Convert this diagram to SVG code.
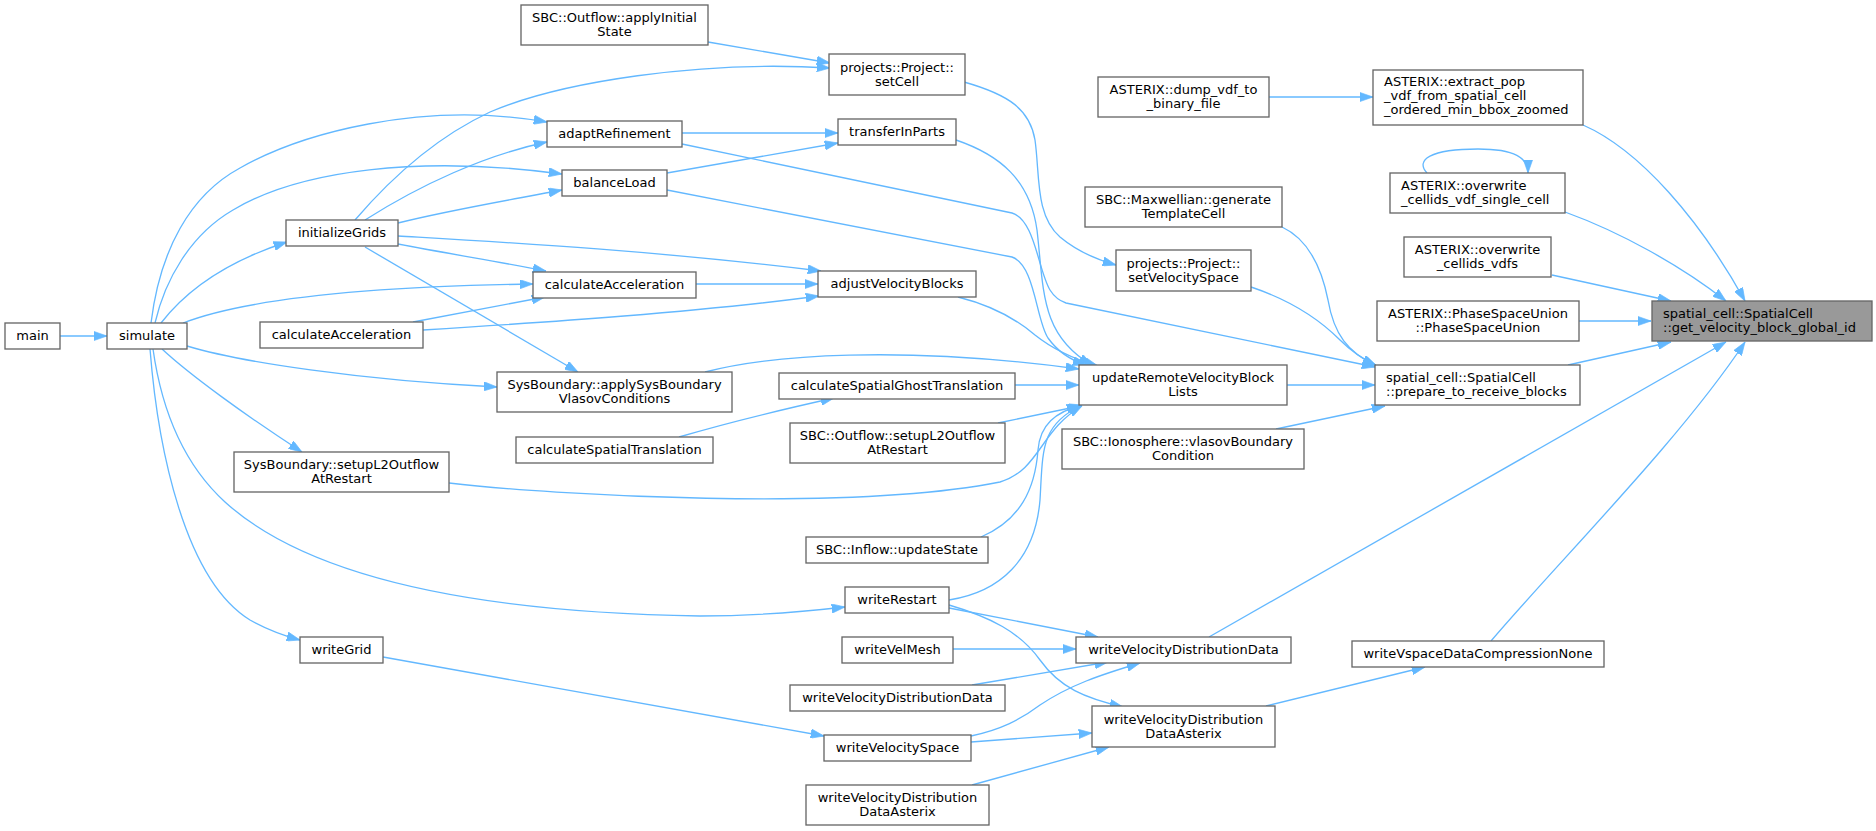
<svg xmlns="http://www.w3.org/2000/svg" width="1876" height="831" viewBox="0 0 1876 831">
<defs>
<style>
.n rect{fill:#ffffff;stroke:#666666;stroke-width:1.33}
.n text{font-family:"DejaVu Sans","Liberation Sans",sans-serif;font-size:13px;fill:#000000;text-anchor:middle}
.n text.l{text-anchor:start}
#target rect{fill:#999999}
.e path{fill:none;stroke:#63b8ff;stroke-width:1.33;marker-end:url(#ah)}
</style>
<marker id="ah" viewBox="0 0 10 7" refX="10" refY="3.5" markerWidth="13.3" markerHeight="9.3" markerUnits="userSpaceOnUse" orient="auto">
<path d="M0,0 L10,3.5 L0,7 z" fill="#63b8ff" stroke="#63b8ff" stroke-width="0.5"/>
</marker>
</defs>
<rect width="1876" height="831" fill="#ffffff"/>
<g id="edges" class="e">
<path d="M60,336 L107,336"/>
<path d="M161,323 C185,292 225,262 287,242"/>
<path d="M151,323 C160,250 190,195 240,168 C300,134 420,100 547,122"/>
<path d="M155,323 C165,280 190,235 233,210 C300,170 420,155 562,174"/>
<path d="M183,323 C235,303 340,287 533,284"/>
<path d="M187,346 C240,362 360,380 497,387"/>
<path d="M162,349 C190,375 245,415 302,452"/>
<path d="M150,349 C158,450 185,580 250,620 C268,630 285,636 300,640"/>
<path d="M153,349 C163,420 190,470 225,502 C300,570 450,612 700,616 C760,616 810,611 845,607"/>
<path d="M355,220 C385,185 430,140 490,112 C560,82 700,60 830,68"/>
<path d="M365,220 C420,185 485,155 547,142"/>
<path d="M398,223 C450,210 510,200 562,190"/>
<path d="M398,244 C450,254 500,262 546,271"/>
<path d="M398,236 C500,242 650,250 821,271"/>
<path d="M365,247 L578,372"/>
<path d="M708,42 L830,63"/>
<path d="M682,133 L838,133"/>
<path d="M667,173 L838,143"/>
<path d="M682,144 L1012,213 C1035,220 1038,270 1050,290 C1055,298 1060,301 1066,303 L1375,367"/>
<path d="M667,190 L1012,257 C1035,265 1036,320 1048,338 C1058,352 1070,360 1086,365"/>
<path d="M956,140 C1000,155 1030,180 1037,230 C1044,290 1040,335 1092,365"/>
<path d="M964,82 C1010,95 1030,110 1035,140 C1040,175 1035,215 1060,237 C1078,252 1098,260 1116,265"/>
<path d="M696,284 L818,284"/>
<path d="M413,322 L545,297"/>
<path d="M423,330 C550,322 700,312 819,296"/>
<path d="M958,297 C990,305 1015,318 1035,335 C1050,347 1070,358 1098,366"/>
<path d="M705,372 C770,355 900,345 1079,369"/>
<path d="M1015,385 L1079,385"/>
<path d="M679,437 C720,425 780,410 834,398"/>
<path d="M449,483 C550,495 850,512 1000,482 C1040,470 1040,430 1082,406"/>
<path d="M998,423 L1080,406"/>
<path d="M981,537 C1020,520 1035,490 1038,450 C1040,425 1055,412 1082,405"/>
<path d="M949,600 C1000,592 1035,560 1040,500 C1043,450 1040,425 1082,405"/>
<path d="M949,608 L1098,637"/>
<path d="M949,605 C990,617 1020,632 1040,660 C1060,688 1085,698 1123,707"/>
<path d="M953,649 L1076,649"/>
<path d="M972,685 L1108,662"/>
<path d="M971,736 C1000,730 1020,720 1040,705 C1070,685 1100,675 1140,663"/>
<path d="M971,742 L1092,733"/>
<path d="M972,785 L1109,747"/>
<path d="M383,657 L824,736"/>
<path d="M1282,227 C1310,240 1322,270 1328,300 C1334,335 1348,352 1376,366"/>
<path d="M1251,287 C1290,300 1320,320 1340,340 C1350,350 1360,358 1376,365"/>
<path d="M1287,385 L1375,385"/>
<path d="M1276,429 L1385,406"/>
<path d="M1568,365 L1671,342"/>
<path d="M1579,321 L1651,321"/>
<path d="M1552,275 L1671,301"/>
<path d="M1565,212 C1620,232 1680,265 1726,301"/>
<path d="M1583,125 C1640,150 1700,220 1745,301"/>
<path d="M1427,173 C1415,160 1430,149 1478,149 C1515,149 1528,158 1528,173"/>
<path d="M1209,637 L1726,342"/>
<path d="M1491,641 C1560,560 1680,440 1745,342"/>
<path d="M1266,706 L1425,667"/>
<path d="M1269,97 L1373,97"/>
</g>
<g id="main" class="n"><rect x="5" y="323" width="55" height="26"/><text x="32.5" y="340">main</text></g>
<g id="simulate" class="n"><rect x="107" y="323" width="80" height="26"/><text x="147" y="340">simulate</text></g>
<g id="initializeGrids" class="n"><rect x="286" y="220" width="112" height="26"/><text x="342" y="237">initializeGrids</text></g>
<g id="calcAccel2" class="n"><rect x="260" y="322" width="163" height="26"/><text x="341.5" y="339">calculateAcceleration</text></g>
<g id="sysbSetupL2" class="n"><rect x="234" y="452" width="215" height="40"/><text x="341.5" y="469">SysBoundary::setupL2Outflow</text><text x="341.5" y="483">AtRestart</text></g>
<g id="writeGrid" class="n"><rect x="300" y="637" width="83" height="26"/><text x="341.5" y="654">writeGrid</text></g>
<g id="applyInitial" class="n"><rect x="521" y="5" width="187" height="40"/><text x="614.5" y="22">SBC::Outflow::applyInitial</text><text x="614.5" y="36">State</text></g>
<g id="adaptRefinement" class="n"><rect x="547" y="121" width="135" height="26"/><text x="614.5" y="138">adaptRefinement</text></g>
<g id="balanceLoad" class="n"><rect x="562" y="170" width="105" height="26"/><text x="614.5" y="187">balanceLoad</text></g>
<g id="calcAccel1" class="n"><rect x="533" y="272" width="163" height="26"/><text x="614.5" y="289">calculateAcceleration</text></g>
<g id="applySysBoundary" class="n"><rect x="497" y="372" width="235" height="40"/><text x="614.5" y="389">SysBoundary::applySysBoundary</text><text x="614.5" y="403">VlasovConditions</text></g>
<g id="calcSpatialTranslation" class="n"><rect x="516" y="437" width="197" height="26"/><text x="614.5" y="454">calculateSpatialTranslation</text></g>
<g id="setCell" class="n"><rect x="829" y="54" width="136" height="41"/><text x="897" y="71.5">projects::Project::</text><text x="897" y="85.5">setCell</text></g>
<g id="transferInParts" class="n"><rect x="838" y="119" width="118" height="26"/><text x="897" y="136">transferInParts</text></g>
<g id="adjustVelocityBlocks" class="n"><rect x="818" y="271" width="158" height="26"/><text x="897" y="288">adjustVelocityBlocks</text></g>
<g id="ghostTranslation" class="n"><rect x="779" y="373" width="236" height="26"/><text x="897" y="390">calculateSpatialGhostTranslation</text></g>
<g id="sbcSetupL2" class="n"><rect x="790" y="423" width="215" height="40"/><text x="897.5" y="440">SBC::Outflow::setupL2Outflow</text><text x="897.5" y="454">AtRestart</text></g>
<g id="inflowUpdate" class="n"><rect x="806" y="537" width="182" height="26"/><text x="897" y="554">SBC::Inflow::updateState</text></g>
<g id="writeRestart" class="n"><rect x="845" y="587" width="104" height="26"/><text x="897" y="604">writeRestart</text></g>
<g id="writeVelMesh" class="n"><rect x="842" y="637" width="111" height="26"/><text x="897.5" y="654">writeVelMesh</text></g>
<g id="wvdd2" class="n"><rect x="790" y="685" width="215" height="26"/><text x="897.5" y="702">writeVelocityDistributionData</text></g>
<g id="writeVelocitySpace" class="n"><rect x="824" y="735" width="147" height="26"/><text x="897.5" y="752">writeVelocitySpace</text></g>
<g id="wvdda2" class="n"><rect x="806" y="785" width="183" height="40"/><text x="897.5" y="802">writeVelocityDistribution</text><text x="897.5" y="816">DataAsterix</text></g>
<g id="dumpVdf" class="n"><rect x="1098" y="77" width="171" height="40"/><text x="1183.5" y="94">ASTERIX::dump_vdf_to</text><text x="1183.5" y="108">_binary_file</text></g>
<g id="maxwellian" class="n"><rect x="1085" y="187" width="197" height="40"/><text x="1183.5" y="204">SBC::Maxwellian::generate</text><text x="1183.5" y="218">TemplateCell</text></g>
<g id="setVelocitySpace" class="n"><rect x="1116" y="250" width="135" height="41"/><text x="1183.5" y="267.5">projects::Project::</text><text x="1183.5" y="281.5">setVelocitySpace</text></g>
<g id="updateRemote" class="n"><rect x="1079" y="365" width="208" height="40"/><text x="1183" y="382">updateRemoteVelocityBlock</text><text x="1183" y="396">Lists</text></g>
<g id="ionosphere" class="n"><rect x="1062" y="429" width="242" height="40"/><text x="1183" y="446">SBC::Ionosphere::vlasovBoundary</text><text x="1183" y="460">Condition</text></g>
<g id="wvdd1" class="n"><rect x="1076" y="637" width="215" height="26"/><text x="1183.5" y="654">writeVelocityDistributionData</text></g>
<g id="wvdda1" class="n"><rect x="1092" y="706" width="183" height="41"/><text x="1183.5" y="723.5">writeVelocityDistribution</text><text x="1183.5" y="737.5">DataAsterix</text></g>
<g id="extractPop" class="n"><rect x="1373" y="70" width="210" height="55"/><text class="l" x="1384" y="86">ASTERIX::extract_pop</text><text class="l" x="1384" y="100">_vdf_from_spatial_cell</text><text class="l" x="1384" y="114">_ordered_min_bbox_zoomed</text></g>
<g id="overwriteSingle" class="n"><rect x="1390" y="173" width="175" height="40"/><text class="l" x="1401" y="190">ASTERIX::overwrite</text><text class="l" x="1401" y="204">_cellids_vdf_single_cell</text></g>
<g id="overwriteVdfs" class="n"><rect x="1404" y="237" width="147" height="40"/><text x="1477.5" y="254">ASTERIX::overwrite</text><text x="1477.5" y="268">_cellids_vdfs</text></g>
<g id="phaseSpaceUnion" class="n"><rect x="1377" y="301" width="202" height="40"/><text x="1478" y="318">ASTERIX::PhaseSpaceUnion</text><text x="1478" y="332">::PhaseSpaceUnion</text></g>
<g id="prepareReceive" class="n"><rect x="1375" y="365" width="205" height="40"/><text class="l" x="1386" y="382">spatial_cell::SpatialCell</text><text class="l" x="1386" y="396">::prepare_to_receive_blocks</text></g>
<g id="writeVspaceNone" class="n"><rect x="1352" y="641" width="252" height="26"/><text x="1478" y="658">writeVspaceDataCompressionNone</text></g>
<g id="target" class="n"><rect x="1652" y="301" width="220" height="40"/><text class="l" x="1663" y="318">spatial_cell::SpatialCell</text><text class="l" x="1663" y="332">::get_velocity_block_global_id</text></g>
</svg>
